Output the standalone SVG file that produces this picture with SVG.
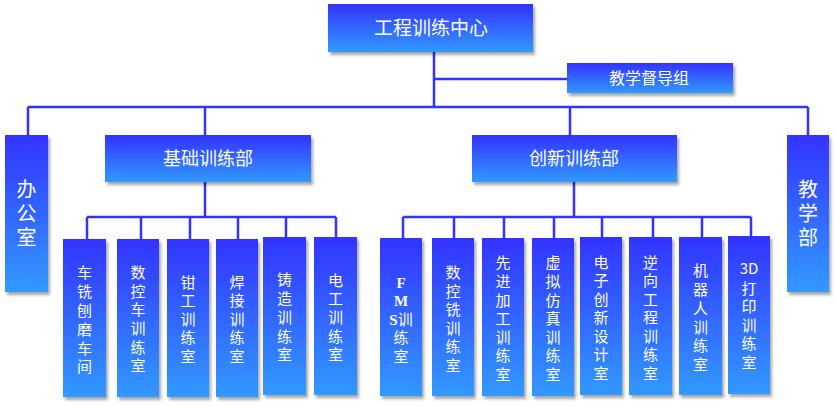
<svg xmlns="http://www.w3.org/2000/svg" width="836" height="407" viewBox="0 0 836 407">
<defs>
<linearGradient id="g" x1="0" y1="0" x2="0" y2="1">
<stop offset="0" stop-color="#3333FF"/>
<stop offset="1" stop-color="#3399FF"/>
</linearGradient>
<filter id="sh" x="-20%" y="-10%" width="150%" height="130%">
<feDropShadow dx="2" dy="3" stdDeviation="1.5" flood-color="#000" flood-opacity="0.35"/>
</filter>
</defs>
<style>
rect.n{fill:url(#g);filter:url(#sh);}
text{fill:#fff;font-family:"Noto Sans CJK SC","Noto Sans",sans-serif;text-anchor:middle;}
.t1{font-size:19px;}
.t2{font-size:18px;}
.t3{font-size:16px;}
.ts{font-size:20px;}
.tc{font-size:15px;}
.sf{font-family:"Liberation Serif",serif;font-weight:bold;}
.c{stroke:#3333FF;stroke-width:2.5;fill:none;}
</style>
<g id="connectors">
<path class="c" d="M434 52V107M434 79H567M28 107H808M28 107V135M205 107V135M570 107V135M808 107V135"/>
<path class="c" d="M205 182V217M87 217H336M87 217V239M141 217V239M190 217V239M238 217V239M286 217V237M336 217V237"/>
<path class="c" d="M574 182V217M403 217H751M403 217V238M454 217V238M504 217V238M554 217V238M602 217V237M653 217V237M702 217V237M751 217V236"/>
</g>
<g id="n-center"><rect class="n" x="328" y="4" width="205" height="48"/><text class="t1" x="431" y="35">工程训练中心</text></g>
<g id="n-dudao"><rect class="n" x="567" y="63" width="166" height="30"/><text class="t3" x="649" y="84">教学督导组</text></g>
<g id="n-office"><rect class="n" x="5" y="135" width="43" height="157"/><text class="ts"><tspan x="26.5" y="197">办</tspan><tspan x="26.5" y="221">公</tspan><tspan x="26.5" y="245">室</tspan></text></g>
<g id="n-jichu"><rect class="n" x="105" y="135" width="206" height="47"/><text class="t2" x="208" y="165">基础训练部</text></g>
<g id="n-chuangxin"><rect class="n" x="472" y="135" width="205" height="47"/><text class="t2" x="574" y="165">创新训练部</text></g>
<g id="n-jiaoxue"><rect class="n" x="787" y="135" width="42" height="157"/><text class="ts"><tspan x="808" y="197">教</tspan><tspan x="808" y="221">学</tspan><tspan x="808" y="245">部</tspan></text></g>

<g id="b1"><rect class="n" x="63" y="239" width="43" height="158"/>
<text class="tc"><tspan x="84.5" y="278">车</tspan><tspan x="84.5" y="297">铣</tspan><tspan x="84.5" y="316">刨</tspan><tspan x="84.5" y="335">磨</tspan><tspan x="84.5" y="353.5">车</tspan><tspan x="84.5" y="372">间</tspan></text></g>
<g id="b2"><rect class="n" x="117" y="239" width="42" height="158"/>
<text class="tc"><tspan x="138" y="278">数</tspan><tspan x="138" y="296.5">控</tspan><tspan x="138" y="315">车</tspan><tspan x="138" y="334">训</tspan><tspan x="138" y="352.5">练</tspan><tspan x="138" y="371">室</tspan></text></g>
<g id="b3"><rect class="n" x="167" y="239" width="42" height="158"/>
<text class="tc"><tspan x="188" y="287.5">钳</tspan><tspan x="188" y="306">工</tspan><tspan x="188" y="324.5">训</tspan><tspan x="188" y="343">练</tspan><tspan x="188" y="362">室</tspan></text></g>
<g id="b4"><rect class="n" x="216" y="239" width="42" height="158"/>
<text class="tc"><tspan x="237" y="287.5">焊</tspan><tspan x="237" y="306">接</tspan><tspan x="237" y="324.5">训</tspan><tspan x="237" y="343">练</tspan><tspan x="237" y="362">室</tspan></text></g>
<g id="b5"><rect class="n" x="263" y="237" width="43" height="158"/>
<text class="tc"><tspan x="284.5" y="285">铸</tspan><tspan x="284.5" y="304">造</tspan><tspan x="284.5" y="323">训</tspan><tspan x="284.5" y="341.5">练</tspan><tspan x="284.5" y="360">室</tspan></text></g>
<g id="b6"><rect class="n" x="314" y="237" width="43" height="158"/>
<text class="tc"><tspan x="335.5" y="285.5">电</tspan><tspan x="335.5" y="304">工</tspan><tspan x="335.5" y="323">训</tspan><tspan x="335.5" y="341.5">练</tspan><tspan x="335.5" y="360">室</tspan></text></g>

<g id="c1"><rect class="n" x="380" y="238" width="42" height="158"/>
<text class="tc"><tspan class="sf" x="401" y="287.5">F</tspan><tspan class="sf" x="401" y="306">M</tspan><tspan x="401" y="324.5"><tspan class="sf">S</tspan>训</tspan><tspan x="401" y="343">练</tspan><tspan x="401" y="361.5">室</tspan></text></g>
<g id="c2"><rect class="n" x="432" y="238" width="42" height="158"/>
<text class="tc"><tspan x="453" y="278">数</tspan><tspan x="453" y="296.5">控</tspan><tspan x="453" y="315">铣</tspan><tspan x="453" y="333.5">训</tspan><tspan x="453" y="352">练</tspan><tspan x="453" y="370.5">室</tspan></text></g>
<g id="c3"><rect class="n" x="482" y="238" width="42" height="158"/>
<text class="tc"><tspan x="503" y="268">先</tspan><tspan x="503" y="287">进</tspan><tspan x="503" y="305.5">加</tspan><tspan x="503" y="324">工</tspan><tspan x="503" y="342.5">训</tspan><tspan x="503" y="361">练</tspan><tspan x="503" y="379.5">室</tspan></text></g>
<g id="c4"><rect class="n" x="532" y="238" width="42" height="158"/>
<text class="tc"><tspan x="553" y="268">虚</tspan><tspan x="553" y="287">拟</tspan><tspan x="553" y="305.5">仿</tspan><tspan x="553" y="324">真</tspan><tspan x="553" y="342.5">训</tspan><tspan x="553" y="361">练</tspan><tspan x="553" y="379.5">室</tspan></text></g>
<g id="c5"><rect class="n" x="580" y="237" width="42" height="158"/>
<text class="tc"><tspan x="601" y="267.5">电</tspan><tspan x="601" y="286">子</tspan><tspan x="601" y="304.5">创</tspan><tspan x="601" y="323">新</tspan><tspan x="601" y="341.5">设</tspan><tspan x="601" y="360">计</tspan><tspan x="601" y="378.5">室</tspan></text></g>
<g id="c6"><rect class="n" x="629" y="237" width="43" height="158"/>
<text class="tc"><tspan x="650.5" y="267.5">逆</tspan><tspan x="650.5" y="286">向</tspan><tspan x="650.5" y="304.5">工</tspan><tspan x="650.5" y="323">程</tspan><tspan x="650.5" y="341.5">训</tspan><tspan x="650.5" y="360">练</tspan><tspan x="650.5" y="378.5">室</tspan></text></g>
<g id="c7"><rect class="n" x="679" y="237" width="43" height="158"/>
<text class="tc"><tspan x="700.5" y="276">机</tspan><tspan x="700.5" y="295">器</tspan><tspan x="700.5" y="314">人</tspan><tspan x="700.5" y="332.5">训</tspan><tspan x="700.5" y="351">练</tspan><tspan x="700.5" y="369.5">室</tspan></text></g>
<g id="c8"><rect class="n" x="728" y="236" width="42" height="158"/>
<text class="tc"><tspan x="749" y="274">3D</tspan><tspan x="749" y="293.5">打</tspan><tspan x="749" y="312">印</tspan><tspan x="749" y="330.5">训</tspan><tspan x="749" y="349">练</tspan><tspan x="749" y="367.5">室</tspan></text></g>
</svg>
